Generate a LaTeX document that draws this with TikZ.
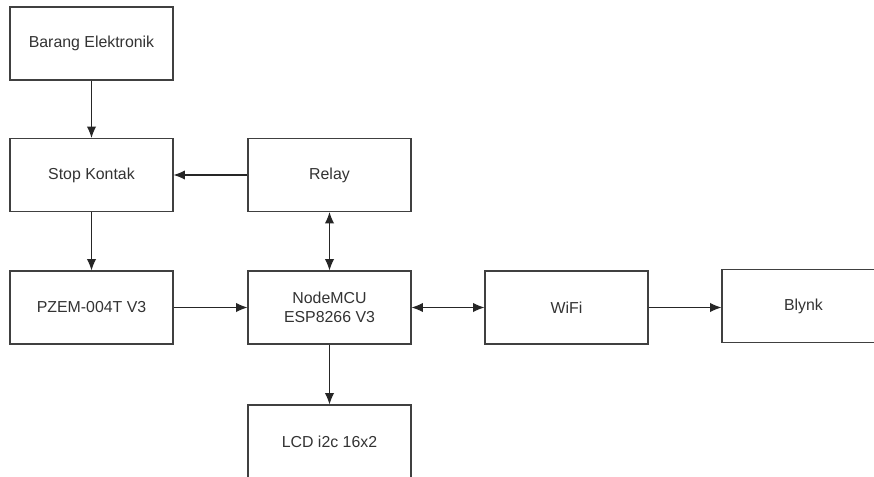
\documentclass[tikz,border=0pt]{standalone}
\usepackage{fontspec}
\setmainfont{Liberation Sans}
\usetikzlibrary{arrows.meta}

\tikzset{
    blok/.style={draw=black!75, line width=0.8pt, fill=white, minimum width=4.075cm, minimum height=1.825cm, align=center, text=black!80, font=\fontsize{11.3}{13.5}\selectfont},
    panah/.style={-{Latex[length=2.8mm,width=2.3mm]}, line width=0.75pt, draw=black!85},
    dua/.style={{Latex[length=2.8mm,width=2.3mm]}-{Latex[length=2.8mm,width=2.3mm]}, line width=0.75pt, draw=black!85}
}

\begin{document}
\begin{tikzpicture}

    % Frame
    \useasboundingbox (0,0) rectangle (21.85,-11.925);
    \clip (0,0) rectangle (21.85,-11.925);
    \fill[white] (0,0) rectangle (21.85,-11.925);

    %% Blocks
    % Left column
    \node[blok] (barang) at (2.2875,-1.0875) {Barang Elektronik};
    \node[blok] (stop) at (2.2875,-4.375) {Stop Kontak};
    \node[blok] (pzem) at (2.2875,-7.6875) {PZEM-004T V3};

    % Middle column
    \node[blok] (relay) at (8.2375,-4.375) {Relay};
    \node[blok] (mcu) at (8.2375,-7.6875) {NodeMCU\\ESP8266 V3};
    \node[blok] (lcd) at (8.2375,-11.0375) {LCD i2c 16x2};

    % Right side
    \node[blok] (wifi) at (14.1625,-7.6875) {WiFi};
    \node[blok] (blynk) at (20.0875,-7.65) {Blynk};

    %% Connections
    \draw[panah] (barang) -- (stop);
    \draw[panah] (stop) -- (pzem);
    \draw[panah] (relay) -- (stop);
    \draw[panah] (pzem) -- (mcu);
    \draw[dua] (relay) -- (mcu);
    \draw[dua] (mcu) -- (wifi);
    \draw[panah] (wifi) -- (blynk.west |- wifi.east);
    \draw[panah] (mcu) -- (lcd);

\end{tikzpicture}
\end{document}
